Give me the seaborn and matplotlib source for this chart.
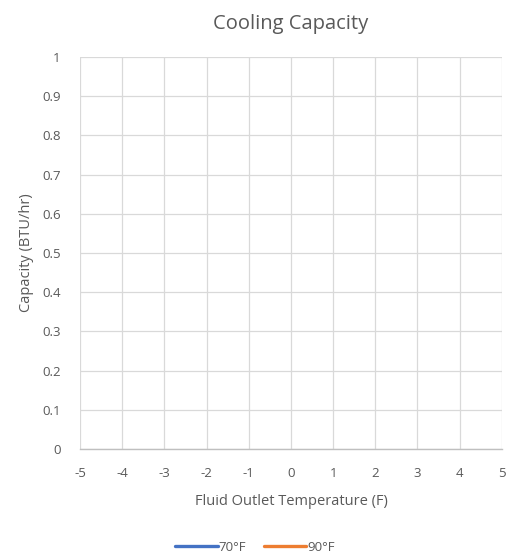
import numpy as np
import pandas as pd
import seaborn as sns
import matplotlib.pyplot as plt

# the chart has no data points, both series are empty
temp_70 = []
cap_70 = []
temp_90 = []
cap_90 = []

x_ticks = [-5, -4, -3, -2, -1, 0, 1, 2, 3, 4, 5]
y_ticks = [0, 0.1, 0.2, 0.3, 0.4, 0.5, 0.6, 0.7, 0.8, 0.9, 1]

sns.set_style("white")
plt.rcParams['font.family'] = ['Open Sans', 'DejaVu Sans']

txt = "#595959"
grid = "#d9d9d9"

fig, ax = plt.subplots(figsize=(5.1, 5.59), dpi=100)
fig.subplots_adjust(left=0.157, right=0.984, top=0.898, bottom=0.197)

ax.plot(temp_70, cap_70, color="#4472c4", lw=2.4, label="70°F")
ax.plot(temp_90, cap_90, color="#ed7d31", lw=2.4, label="90°F")

ax.set_xlim(-5, 5)
ax.set_ylim(0, 1)
ax.set_xticks(x_ticks)
ax.set_yticks(y_ticks)
ax.set_xticklabels([str(t) for t in x_ticks])
ax.set_yticklabels(["0", "0.1", "0.2", "0.3", "0.4", "0.5", "0.6", "0.7", "0.8", "0.9", "1"])
ax.grid(True, color=grid, lw=0.9)
for s in ["top", "right", "left"]:
    ax.spines[s].set_visible(False)
ax.spines["bottom"].set_color("#bfbfbf")
ax.spines["bottom"].set_linewidth(1.0)
ax.tick_params(axis="x", length=0, labelsize=9.5, colors=txt, pad=13)
ax.tick_params(axis="y", length=0, labelsize=9.5, colors=txt, pad=14)

ax.set_title("Cooling Capacity", fontsize=14.5, color=txt, pad=20)
ax.set_xlabel("Fluid Outlet Temperature (F)", fontsize=10.5, color=txt, labelpad=10)
ax.set_ylabel("Capacity (BTU/hr)", fontsize=10.5, color=txt, labelpad=6)

leg = fig.legend(loc="lower center", bbox_to_anchor=(0.5, -0.012), ncol=2, frameon=False,
                 fontsize=9.5, handlelength=3.2, handletextpad=0.1, columnspacing=1.3,
                 labelcolor=txt)

plt.savefig("out.png", dpi=100)
